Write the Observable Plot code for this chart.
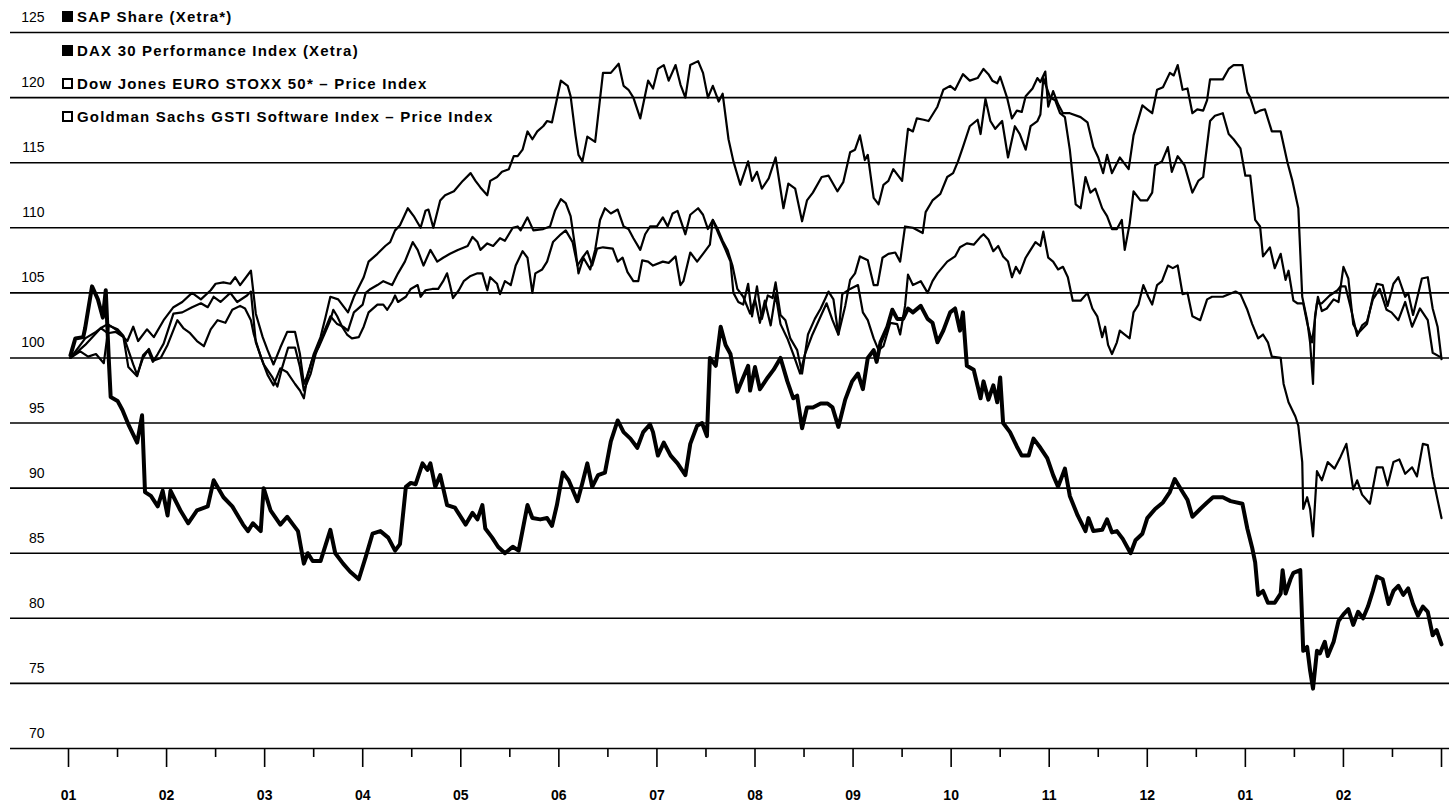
<!DOCTYPE html>
<html><head><meta charset="utf-8">
<script src="https://cdn.jsdelivr.net/npm/d3@7"></script>
<script src="https://cdn.jsdelivr.net/npm/@observablehq/plot@0.6"></script>
<style>
body{margin:0;background:#fff;font-family:"Liberation Sans",Arial,sans-serif;color:#000;}
#wrap{position:relative;width:1449px;height:810px;}
#legend{position:absolute;left:62px;top:0;}
.row{height:33.4px;display:flex;align-items:center;font-weight:bold;font-size:15px;letter-spacing:1.2px;white-space:nowrap;}
.sq{width:11px;height:11px;box-sizing:border-box;border:2px solid #000;margin-right:4px;}
</style></head><body><div id="wrap"><div id="legend"></div></div>
<script>
const monthLabels = ["01","02","03","04","05","06","07","08","09","10","11","12","01","02"];
const yTicks = [70,75,80,85,90,95,100,105,110,115,120,125];
const seriesNames = ["SAP Share (Xetra*)","DAX 30 Performance Index (Xetra)","Dow Jones EURO STOXX 50* – Price Index","Goldman Sachs GSTI Software Index – Price Index"];
const seriesFilled = [true, true, false, false];

// [month position, index value]
const sapShare = [[0.02,100.2],[0.07,101.5],[0.15,101.6],[0.17,102.3],[0.24,105.5],[0.30,104.5],[0.35,103.1],[0.38,105.2],[0.41,100],[0.43,97],[0.50,96.7],[0.55,96],[0.61,94.9],[0.70,93.5],[0.75,95.6],[0.78,89.7],[0.84,89.4],[0.91,88.6],[0.96,89.8],[1.01,87.9],[1.04,89.8],[1.14,88.3],[1.22,87.3],[1.31,88.3],[1.42,88.6],[1.48,90.6],[1.58,89.3],[1.67,88.6],[1.78,87.2],[1.83,86.7],[1.88,87.3],[1.96,86.7],[1.99,90],[2.06,88.3],[2.16,87.2],[2.23,87.8],[2.29,87.2],[2.34,86.7],[2.40,84.2],[2.44,85],[2.49,84.4],[2.57,84.4],[2.67,86.8],[2.72,85],[2.80,84.2],[2.87,83.6],[2.96,83],[3.03,84.7],[3.10,86.5],[3.18,86.7],[3.26,86.2],[3.33,85.2],[3.38,85.7],[3.44,90.1],[3.49,90.4],[3.54,90.3],[3.61,91.9],[3.66,91.4],[3.69,91.9],[3.74,90.1],[3.79,91],[3.86,88.7],[3.94,88.5],[4.05,87.2],[4.12,88.1],[4.17,87.6],[4.22,88.7],[4.25,86.9],[4.32,86.2],[4.38,85.5],[4.45,85],[4.53,85.5],[4.59,85.2],[4.68,88.7],[4.73,87.7],[4.81,87.6],[4.88,87.7],[4.93,87.1],[4.98,88.7],[5.04,91.2],[5.10,90.6],[5.19,89],[5.24,90.4],[5.29,91.9],[5.34,90.1],[5.40,91],[5.47,91.2],[5.53,93.6],[5.60,95.2],[5.66,94.3],[5.73,93.8],[5.80,93.1],[5.86,94.3],[5.93,94.9],[5.96,94.3],[6.01,92.5],[6.07,93.5],[6.14,92.5],[6.21,91.9],[6.29,91],[6.34,93.4],[6.41,94.8],[6.46,95],[6.51,94],[6.54,100],[6.60,99.4],[6.65,102.4],[6.70,101],[6.75,100.3],[6.82,97.4],[6.88,98.5],[6.93,99.4],[6.95,97.5],[7.00,99.3],[7.05,97.6],[7.13,98.5],[7.19,99.1],[7.26,100],[7.33,98.2],[7.39,96.9],[7.43,97.1],[7.48,94.6],[7.53,96.2],[7.59,96.2],[7.67,96.5],[7.74,96.5],[7.79,96.2],[7.85,94.7],[7.92,96.8],[7.99,98.2],[8.05,98.8],[8.10,97.6],[8.15,100],[8.21,100.6],[8.24,99.7],[8.28,101.2],[8.35,102.4],[8.40,103.7],[8.45,103],[8.51,103],[8.56,103.8],[8.61,103.5],[8.69,104],[8.76,103],[8.81,102.7],[8.86,101.2],[8.92,102.1],[8.99,103.5],[9.04,103.8],[9.09,102.1],[9.12,103.5],[9.16,99.4],[9.23,99.1],[9.30,96.9],[9.33,98.2],[9.38,96.8],[9.43,97.9],[9.47,96.6],[9.50,98.5],[9.53,95],[9.60,94.3],[9.67,93.2],[9.72,92.5],[9.79,92.5],[9.84,93.8],[9.91,93.1],[9.98,92.3],[10.04,91],[10.09,90.1],[10.16,91.5],[10.21,89.4],[10.29,87.9],[10.37,86.7],[10.40,87.7],[10.45,86.7],[10.54,86.8],[10.59,87.6],[10.64,86.6],[10.69,86.7],[10.75,86.1],[10.83,85],[10.88,86],[10.95,86.5],[11.00,87.7],[11.08,88.4],[11.16,88.9],[11.23,89.7],[11.28,90.7],[11.36,89.7],[11.41,89.1],[11.46,87.8],[11.54,88.4],[11.61,88.9],[11.67,89.3],[11.77,89.3],[11.85,89],[11.97,88.8],[12.02,86.9],[12.07,85.4],[12.10,84.3],[12.13,81.8],[12.18,82.1],[12.23,81.2],[12.30,81.2],[12.36,81.9],[12.38,83.7],[12.41,81.9],[12.46,83],[12.49,83.5],[12.56,83.7],[12.59,77.5],[12.63,77.8],[12.66,76],[12.69,74.6],[12.73,77.5],[12.76,77.3],[12.81,78.2],[12.84,77.1],[12.90,78.2],[12.95,79.8],[13.00,80.3],[13.05,80.7],[13.10,79.5],[13.15,80.5],[13.20,80],[13.25,80.9],[13.30,82.1],[13.34,83.2],[13.40,83],[13.46,81.1],[13.51,82.1],[13.56,82.5],[13.61,81.8],[13.66,82.3],[13.71,81.1],[13.76,80.2],[13.81,80.9],[13.86,80.5],[13.91,78.7],[13.95,79.1],[14.00,78]];

const dax30 = [[0.02,100],[0.10,100.8],[0.17,101.5],[0.28,102],[0.33,102.3],[0.40,102.6],[0.48,102.2],[0.60,101.3],[0.66,102.4],[0.71,101.3],[0.80,102.2],[0.87,101.6],[0.97,102.9],[1.07,103.9],[1.16,104.3],[1.26,105],[1.35,104.5],[1.45,105.2],[1.50,105.7],[1.58,105.8],[1.65,105.7],[1.70,106.2],[1.75,105.6],[1.86,106.7],[1.91,103.4],[1.98,101.6],[2.03,100.6],[2.09,99.5],[2.16,100.8],[2.23,102],[2.31,102],[2.36,100.3],[2.40,98],[2.45,98.9],[2.50,100.3],[2.57,101.6],[2.62,103.1],[2.67,104.7],[2.75,104.5],[2.85,103.5],[2.91,104.7],[2.95,105.3],[3.01,106.2],[3.06,107.4],[3.15,108],[3.23,108.6],[3.28,108.9],[3.33,109.8],[3.38,110.2],[3.46,111.5],[3.52,110.9],[3.59,110],[3.64,111.3],[3.67,111.4],[3.72,110],[3.79,112.1],[3.84,112.5],[3.93,112.8],[4.02,113.6],[4.10,114.2],[4.15,113.6],[4.20,113.1],[4.27,112.5],[4.30,113.6],[4.37,113.9],[4.42,114.3],[4.49,114.5],[4.54,115.5],[4.58,115.5],[4.63,116],[4.68,117.4],[4.73,116.8],[4.78,117.4],[4.84,117.8],[4.88,118.2],[4.93,118.1],[5.02,121.3],[5.09,120.9],[5.12,120.1],[5.17,117.1],[5.20,115.6],[5.24,115.1],[5.29,117],[5.37,116.6],[5.45,121.9],[5.53,121.9],[5.61,122.6],[5.66,120.9],[5.71,120.6],[5.76,120],[5.83,118.4],[5.91,121.3],[5.96,120.7],[6.01,122.2],[6.07,122.5],[6.12,121.3],[6.19,122.5],[6.24,121],[6.29,120],[6.34,122.5],[6.42,122.8],[6.47,121.9],[6.52,120],[6.57,120.9],[6.63,119.7],[6.67,120.3],[6.73,116.8],[6.78,115.1],[6.85,113.3],[6.93,115.1],[6.97,113.6],[7.02,114.3],[7.07,113],[7.14,113.8],[7.21,115.4],[7.29,111.5],[7.34,113.4],[7.41,113],[7.48,110.5],[7.53,112.1],[7.59,112.7],[7.68,113.9],[7.75,114],[7.84,112.8],[7.90,113.5],[7.97,115.8],[8.02,116],[8.07,117.1],[8.12,115.2],[8.15,115.6],[8.21,112.3],[8.26,111.8],[8.31,113.3],[8.36,113.6],[8.41,114.5],[8.50,113.6],[8.56,117.6],[8.61,117.4],[8.65,118.4],[8.72,118.3],[8.77,118.2],[8.86,119.3],[8.92,120.6],[8.99,120.9],[9.04,120.6],[9.12,121.8],[9.19,121.3],[9.27,121.5],[9.33,122.2],[9.38,121.8],[9.42,121.3],[9.47,121.1],[9.50,121.6],[9.57,120],[9.62,118.4],[9.67,119],[9.72,118.9],[9.76,120.1],[9.83,120.7],[9.88,121.5],[9.91,121.2],[9.96,122],[9.99,119.3],[10.04,120.5],[10.09,119.5],[10.14,118.8],[10.21,118.8],[10.32,118.5],[10.39,118.1],[10.45,116.2],[10.50,115.4],[10.55,114.2],[10.59,115.6],[10.64,114.2],[10.72,115.4],[10.81,114.5],[10.86,117.1],[10.95,119.4],[11.00,119.1],[11.05,118.8],[11.10,120.6],[11.16,120.8],[11.23,121.9],[11.27,121.7],[11.31,122.5],[11.36,120.6],[11.41,120.7],[11.46,118.8],[11.51,119.1],[11.57,119],[11.61,119.8],[11.64,121.4],[11.77,121.4],[11.83,122.2],[11.88,122.5],[11.97,122.5],[12.02,120.4],[12.05,120],[12.10,118.8],[12.15,119],[12.20,119.1],[12.27,117.4],[12.36,117.4],[12.43,115],[12.48,113.6],[12.54,111.5],[12.58,104.7],[12.63,102.9],[12.66,101.2],[12.69,98],[12.71,103.2],[12.74,104.7],[12.78,103.6],[12.83,103.8],[12.90,104.5],[12.95,104.3],[13.00,107],[13.05,106.1],[13.10,102.6],[13.15,101.9],[13.24,102.6],[13.30,104.7],[13.34,105.7],[13.40,105.6],[13.45,104],[13.51,105.7],[13.56,106.2],[13.63,104.7],[13.66,105],[13.71,103.3],[13.80,106.1],[13.86,106.2],[13.91,103.8],[13.96,102.4],[14.00,99.9]];

const euroStoxx50 = [[0.02,100],[0.12,100.5],[0.20,100.1],[0.28,100.3],[0.36,99.6],[0.41,102.5],[0.50,102.2],[0.56,101.7],[0.61,100.6],[0.66,99.5],[0.70,98.7],[0.76,100],[0.82,100.7],[0.87,99.8],[0.94,100],[1.01,101],[1.11,102.9],[1.17,102.3],[1.24,101.9],[1.31,101.3],[1.38,100.9],[1.45,102.2],[1.52,102.9],[1.60,102.7],[1.67,103.7],[1.75,104],[1.80,103.8],[1.86,102.9],[1.89,101.8],[1.96,100.1],[2.03,98.7],[2.09,97.9],[2.16,99.2],[2.23,98.9],[2.31,98],[2.36,97.5],[2.40,96.9],[2.44,98.8],[2.49,100],[2.55,100.8],[2.62,102],[2.67,102.9],[2.70,103.7],[2.74,103.2],[2.79,102.4],[2.84,101.8],[2.89,101.5],[2.96,101.6],[3.01,102.4],[3.06,103.5],[3.15,104.1],[3.21,104.1],[3.25,103.7],[3.30,104.3],[3.33,104.8],[3.36,104.3],[3.44,104.7],[3.49,105.3],[3.56,105.6],[3.59,104.7],[3.64,105.2],[3.71,105.3],[3.77,105.3],[3.82,105.9],[3.86,106.5],[3.89,105.6],[3.92,104.6],[3.98,105.2],[4.03,105.9],[4.10,106.3],[4.17,106.5],[4.22,106.5],[4.27,105.2],[4.30,106.2],[4.37,105.7],[4.40,104.9],[4.45,105.9],[4.51,105.6],[4.56,107.1],[4.63,108.2],[4.68,107.7],[4.73,105],[4.76,106.5],[4.83,106.8],[4.88,107.4],[4.94,108.9],[5.02,109.5],[5.07,109.8],[5.14,108.9],[5.19,107.1],[5.24,107.7],[5.29,108.2],[5.34,107.1],[5.39,108.4],[5.45,108.5],[5.55,108.4],[5.60,107.4],[5.65,107.7],[5.70,106.6],[5.76,105.9],[5.81,105.9],[5.85,107.5],[5.91,107.4],[5.96,107.1],[6.06,107.4],[6.12,107.3],[6.19,107.8],[6.24,105.6],[6.27,105.9],[6.34,108.1],[6.41,107.4],[6.47,108],[6.54,108.7],[6.57,110.6],[6.62,109.9],[6.67,109],[6.72,108.3],[6.77,107.1],[6.82,105.3],[6.88,104.7],[6.95,103.4],[7.00,104.5],[7.05,102.7],[7.10,104.4],[7.16,102.5],[7.21,104.9],[7.26,102.6],[7.33,101.5],[7.39,100.3],[7.46,98.8],[7.51,100.3],[7.58,101.7],[7.67,103.2],[7.73,104.2],[7.79,102.9],[7.85,101.8],[7.89,104.9],[7.97,105.3],[8.05,105.6],[8.10,103.5],[8.15,102.9],[8.21,101.5],[8.26,100.6],[8.31,100.9],[8.38,102.7],[8.45,102.6],[8.48,101.8],[8.53,104],[8.56,106.4],[8.61,105.6],[8.69,105.9],[8.76,105],[8.81,105.9],[8.86,106.5],[8.96,107.4],[9.04,107.8],[9.09,108.5],[9.16,108.8],[9.23,108.7],[9.30,109.3],[9.33,109.5],[9.38,109.1],[9.43,108.2],[9.48,108.6],[9.53,107.8],[9.58,107.4],[9.62,106.2],[9.66,107],[9.70,106.5],[9.76,107.7],[9.81,108.3],[9.86,108.9],[9.91,108.6],[9.94,109.7],[9.99,107.7],[10.04,107.4],[10.09,106.8],[10.14,107],[10.19,106.2],[10.24,104.4],[10.32,104.4],[10.39,105],[10.44,103.8],[10.49,103.2],[10.54,101.6],[10.57,102.4],[10.60,101],[10.64,100.3],[10.69,101.2],[10.72,102.1],[10.77,101.8],[10.82,101.5],[10.86,103.5],[10.91,104.1],[10.96,105.6],[11.01,104.7],[11.05,104.1],[11.10,105.6],[11.15,105.9],[11.21,107.1],[11.26,106.9],[11.31,107.1],[11.36,104.9],[11.41,105],[11.46,103.2],[11.54,102.9],[11.61,104.5],[11.66,104.7],[11.77,104.7],[11.90,105.1],[11.95,104.9],[12.02,103.7],[12.07,102.6],[12.13,101.5],[12.18,101.8],[12.23,101.2],[12.27,100.1],[12.36,100],[12.39,98],[12.44,96.6],[12.51,95.5],[12.54,94.8],[12.58,92],[12.59,88.4],[12.63,89.3],[12.66,88.4],[12.69,86.3],[12.73,91.3],[12.78,90.6],[12.84,92],[12.91,91.5],[12.97,92.4],[13.03,93.4],[13.10,89.9],[13.14,90.6],[13.19,89.5],[13.27,88.8],[13.34,91.6],[13.40,91.6],[13.45,90.2],[13.51,92],[13.57,92.2],[13.63,91.1],[13.70,91.6],[13.75,90.9],[13.81,93.4],[13.86,93.3],[13.91,90.9],[13.96,89.1],[14.00,87.7]];

const gstiSoftware = [[0.02,100],[0.17,101],[0.33,102.3],[0.40,101.9],[0.48,102],[0.56,101.6],[0.61,99.3],[0.70,98.6],[0.76,100.2],[0.81,100.6],[0.86,99.7],[0.91,100.3],[0.97,101.1],[1.07,103.4],[1.16,103.5],[1.26,103.9],[1.35,104.2],[1.42,103.9],[1.48,104.7],[1.55,104.3],[1.65,105],[1.72,104.3],[1.82,104.8],[1.86,105.1],[1.91,101.2],[1.99,99.5],[2.08,98.5],[2.13,97.8],[2.18,99.3],[2.24,100.8],[2.31,100.8],[2.36,99.3],[2.40,97.5],[2.47,98.8],[2.52,100.3],[2.60,101.9],[2.67,103.2],[2.74,102.6],[2.80,102.4],[2.85,102.1],[2.91,103.5],[3.00,104.1],[3.03,105],[3.08,105.3],[3.15,105.6],[3.21,105.9],[3.30,105.6],[3.36,106.5],[3.43,107.4],[3.51,108.9],[3.56,108.3],[3.62,107.1],[3.69,108.3],[3.76,107.4],[3.82,107.7],[3.89,108],[3.97,108.3],[4.07,108.6],[4.12,109.3],[4.17,108.9],[4.20,108.3],[4.27,108.8],[4.33,108.6],[4.40,109.2],[4.45,109],[4.53,110],[4.58,110.1],[4.61,109.8],[4.68,110.8],[4.74,109.8],[4.84,109.9],[4.91,110.1],[4.96,111.3],[5.02,112.2],[5.07,111.9],[5.12,110.9],[5.17,108.3],[5.20,106.5],[5.25,107.7],[5.32,106.8],[5.37,108.3],[5.42,110.6],[5.47,111.5],[5.53,111.1],[5.60,111.4],[5.66,110.1],[5.71,109.9],[5.76,109.2],[5.83,108.3],[5.88,109.5],[5.93,110.1],[6.00,110.1],[6.06,110.8],[6.11,110.1],[6.16,111.1],[6.21,111.3],[6.29,109.5],[6.34,111],[6.42,111.5],[6.47,111],[6.52,109.9],[6.57,110.6],[6.63,109.5],[6.70,108.3],[6.75,107.4],[6.78,105],[6.83,104.3],[6.88,104.1],[6.93,105.7],[6.97,103.2],[7.02,105.5],[7.07,103],[7.13,104.8],[7.18,104.6],[7.21,105.8],[7.26,103.3],[7.31,102.9],[7.36,101.5],[7.43,100.6],[7.48,98.8],[7.54,101.8],[7.61,103],[7.67,103.8],[7.75,105.1],[7.80,104.5],[7.85,101.8],[7.92,104],[7.97,106],[8.02,106.5],[8.07,107.8],[8.15,107.5],[8.21,105.6],[8.25,105.6],[8.30,107.7],[8.36,108],[8.43,108.1],[8.48,107.4],[8.53,110.1],[8.61,110],[8.71,109.6],[8.74,111.2],[8.81,112.1],[8.89,112.6],[8.96,113.9],[9.02,114.2],[9.07,115.1],[9.12,116.2],[9.19,117.8],[9.27,118.3],[9.30,117.2],[9.35,119.9],[9.40,118.2],[9.45,117.6],[9.52,118.2],[9.58,115.4],[9.65,117.8],[9.70,117.2],[9.76,116],[9.81,117.8],[9.88,118.2],[9.91,118.7],[9.94,121.5],[10.01,120],[10.06,119.8],[10.11,118.8],[10.16,118.5],[10.21,116],[10.27,111.8],[10.32,111.5],[10.37,113.9],[10.42,112.7],[10.47,113],[10.54,111.5],[10.59,110.9],[10.64,109.9],[10.69,109.9],[10.74,110.6],[10.77,108.3],[10.82,110.3],[10.86,112.8],[10.93,112.1],[11.00,112.1],[11.05,112.7],[11.08,114.8],[11.15,115.1],[11.21,116.2],[11.25,114.3],[11.31,115.5],[11.38,114.8],[11.46,112.7],[11.52,113.6],[11.57,113.9],[11.64,118.2],[11.69,118.6],[11.77,118.8],[11.83,117.2],[11.88,116.8],[11.95,116.1],[12.00,114],[12.05,114],[12.10,110.6],[12.15,110.1],[12.18,107.8],[12.25,108.5],[12.30,106.9],[12.36,108],[12.41,106],[12.44,106.7],[12.49,104.4],[12.53,104.2],[12.59,104.2],[12.63,102.7],[12.68,101.2],[12.73,104.2],[12.78,104.2],[12.86,104.8],[12.94,105.2],[12.97,105.5],[13.02,105.5],[13.07,104],[13.14,101.7],[13.19,102.5],[13.24,102.8],[13.30,104.5],[13.37,105.3],[13.44,103.7],[13.49,103.5],[13.56,102.9],[13.63,104.3],[13.70,102.4],[13.78,103.8],[13.86,102.9],[13.91,100.4],[13.98,100.1]];

const toRows = (pairs) => pairs.map(([m, v]) => ({m, v}));
const monthTicks = d3.range(0, 15);
const halfTicks = d3.range(0, 14).map(d => d + 0.5);

const chart = Plot.plot({
  width: 1449,
  height: 810,
  marginTop: 32,
  marginBottom: 62,
  marginLeft: 68,
  marginRight: 8,
  style: {fontFamily: "'Liberation Sans', Arial, sans-serif", fontSize: "14px", color: "#000", background: "#fff"},
  x: {domain: [0, 14], axis: null},
  y: {domain: [70, 125], axis: null},
  marks: [
    Plot.ruleY(yTicks, {stroke: "#000", strokeWidth: 1.6, insetLeft: -58, insetRight: -8}),
    Plot.axisY(yTicks, {anchor: "left", label: null, tickSize: 0, tickPadding: 24, dy: -15, fontSize: 14}),
    Plot.axisX(monthTicks, {anchor: "bottom", label: null, tickSize: 19, tickFormat: () => "", strokeWidth: 1.6}),
    Plot.axisX(halfTicks, {anchor: "bottom", label: null, tickSize: 9, tickFormat: () => "", strokeWidth: 1.6}),
    Plot.axisX(d3.range(0, 14), {anchor: "bottom", label: null, tickSize: 0, tickPadding: 42, tickFormat: i => monthLabels[i], fontWeight: "bold", fontSize: 14}),
    Plot.line(toRows(euroStoxx50), {x: "m", y: "v", stroke: "#000", strokeWidth: 2.2, strokeLinejoin: "round"}),
    Plot.line(toRows(gstiSoftware), {x: "m", y: "v", stroke: "#000", strokeWidth: 2.2, strokeLinejoin: "round"}),
    Plot.line(toRows(dax30), {x: "m", y: "v", stroke: "#000", strokeWidth: 2.2, strokeLinejoin: "round"}),
    Plot.line(toRows(sapShare), {x: "m", y: "v", stroke: "#000", strokeWidth: 4, strokeLinejoin: "round"})
  ]
});
document.getElementById("wrap").prepend(chart);

const legend = document.getElementById("legend");
seriesNames.forEach((name, i) => {
  const row = document.createElement("div");
  row.className = "row";
  const sq = document.createElement("span");
  sq.className = "sq";
  if (seriesFilled[i]) sq.style.background = "#000";
  row.appendChild(sq);
  row.appendChild(document.createTextNode(name));
  legend.appendChild(row);
});
</script>
</body></html>
